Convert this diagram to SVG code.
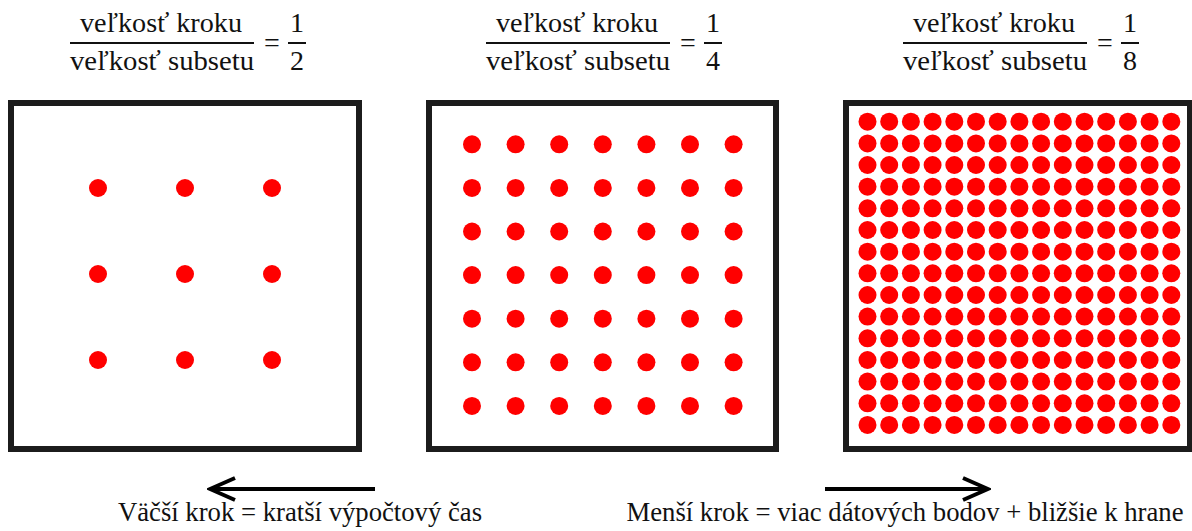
<svg xmlns="http://www.w3.org/2000/svg" xmlns:xlink="http://www.w3.org/1999/xlink" width="1192" height="531" viewBox="0 0 1192 531">
  <style>
    .frame { fill: #ffffff; stroke: #1c1c1c; stroke-width: 6; }
    .dot { fill: #ff0000; }
    .math { font-family: "Liberation Serif", "Times New Roman", serif; font-size: 28px; fill: #111; text-anchor: middle; }
    .cap { font-family: "Liberation Serif", "Times New Roman", serif; font-size: 26.7px; fill: #111; text-anchor: middle; }
    .bar { stroke: #111; stroke-width: 2; }
    .arrow { stroke: #000; stroke-width: 4; fill: none; }
  </style>
  <defs>
    <marker id="chevron" viewBox="0 0 30 26" refX="27" refY="13" markerWidth="30" markerHeight="26" markerUnits="userSpaceOnUse" orient="auto">
      <path d="M2,2 L27,13 L2,24" fill="none" stroke="#000" stroke-width="4" stroke-linejoin="miter"/>
    </marker>
    <!-- one row of the medium grid (7 points) -->
    <g id="row7">
      <circle class="dot" cx="472" cy="0" r="9"/>
      <circle class="dot" cx="515.6" cy="0" r="9"/>
      <circle class="dot" cx="559.2" cy="0" r="9"/>
      <circle class="dot" cx="602.8" cy="0" r="9"/>
      <circle class="dot" cx="646.4" cy="0" r="9"/>
      <circle class="dot" cx="690" cy="0" r="9"/>
      <circle class="dot" cx="733.6" cy="0" r="9"/>
    </g>
    <!-- one row of the fine grid (15 points) -->
    <g id="row15">
      <circle class="dot" cx="867.5" cy="0" r="9"/>
      <circle class="dot" cx="889.2" cy="0" r="9"/>
      <circle class="dot" cx="910.9" cy="0" r="9"/>
      <circle class="dot" cx="932.6" cy="0" r="9"/>
      <circle class="dot" cx="954.3" cy="0" r="9"/>
      <circle class="dot" cx="976.0" cy="0" r="9"/>
      <circle class="dot" cx="997.7" cy="0" r="9"/>
      <circle class="dot" cx="1019.4" cy="0" r="9"/>
      <circle class="dot" cx="1041.1" cy="0" r="9"/>
      <circle class="dot" cx="1062.8" cy="0" r="9"/>
      <circle class="dot" cx="1084.5" cy="0" r="9"/>
      <circle class="dot" cx="1106.2" cy="0" r="9"/>
      <circle class="dot" cx="1127.9" cy="0" r="9"/>
      <circle class="dot" cx="1149.6" cy="0" r="9"/>
      <circle class="dot" cx="1171.3" cy="0" r="9"/>
    </g>
  </defs>

  <rect width="1192" height="531" fill="#ffffff"/>

  <!-- step / subset ratio 1/2 -->
  <g id="ratio-half">
    <text class="math" x="161" y="32" textLength="162" lengthAdjust="spacingAndGlyphs">veľkosť kroku</text>
    <line class="bar" x1="70" y1="43" x2="254" y2="43"/>
    <text class="math" x="162" y="70" textLength="184" lengthAdjust="spacingAndGlyphs">veľkosť subsetu</text>
    <text class="math" x="272" y="52">=</text>
    <text class="math" x="297" y="32">1</text>
    <line class="bar" x1="288" y1="43" x2="306" y2="43"/>
    <text class="math" x="297" y="70">2</text>
  </g>
  <g id="grid-coarse">
    <rect class="frame" x="11" y="103" width="348" height="346"/>
    <circle class="dot" cx="98" cy="188" r="9"/>
    <circle class="dot" cx="185" cy="188" r="9"/>
    <circle class="dot" cx="272" cy="188" r="9"/>
    <circle class="dot" cx="98" cy="274" r="9"/>
    <circle class="dot" cx="185" cy="274" r="9"/>
    <circle class="dot" cx="272" cy="274" r="9"/>
    <circle class="dot" cx="98" cy="360" r="9"/>
    <circle class="dot" cx="185" cy="360" r="9"/>
    <circle class="dot" cx="272" cy="360" r="9"/>
  </g>

  <!-- step / subset ratio 1/4 -->
  <g id="ratio-quarter">
    <text class="math" x="577" y="32" textLength="162" lengthAdjust="spacingAndGlyphs">veľkosť kroku</text>
    <line class="bar" x1="486" y1="43" x2="670" y2="43"/>
    <text class="math" x="578" y="70" textLength="184" lengthAdjust="spacingAndGlyphs">veľkosť subsetu</text>
    <text class="math" x="688" y="52">=</text>
    <text class="math" x="713" y="32">1</text>
    <line class="bar" x1="704" y1="43" x2="722" y2="43"/>
    <text class="math" x="713" y="70">4</text>
  </g>
  <g id="grid-medium">
    <rect class="frame" x="429" y="103" width="347" height="346"/>
    <use xlink:href="#row7" href="#row7" y="144.3"/>
    <use xlink:href="#row7" href="#row7" y="187.9"/>
    <use xlink:href="#row7" href="#row7" y="231.5"/>
    <use xlink:href="#row7" href="#row7" y="275.1"/>
    <use xlink:href="#row7" href="#row7" y="318.7"/>
    <use xlink:href="#row7" href="#row7" y="362.3"/>
    <use xlink:href="#row7" href="#row7" y="405.9"/>
  </g>

  <!-- step / subset ratio 1/8 -->
  <g id="ratio-eighth">
    <text class="math" x="994" y="32" textLength="162" lengthAdjust="spacingAndGlyphs">veľkosť kroku</text>
    <line class="bar" x1="903" y1="43" x2="1087" y2="43"/>
    <text class="math" x="995" y="70" textLength="184" lengthAdjust="spacingAndGlyphs">veľkosť subsetu</text>
    <text class="math" x="1105" y="52">=</text>
    <text class="math" x="1130" y="32">1</text>
    <line class="bar" x1="1121" y1="43" x2="1139" y2="43"/>
    <text class="math" x="1130" y="70">8</text>
  </g>
  <g id="grid-fine">
    <rect class="frame" x="846" y="103" width="344" height="346"/>
    <use xlink:href="#row15" href="#row15" y="121.7"/>
    <use xlink:href="#row15" href="#row15" y="143.4"/>
    <use xlink:href="#row15" href="#row15" y="165.0"/>
    <use xlink:href="#row15" href="#row15" y="186.7"/>
    <use xlink:href="#row15" href="#row15" y="208.3"/>
    <use xlink:href="#row15" href="#row15" y="230.0"/>
    <use xlink:href="#row15" href="#row15" y="251.7"/>
    <use xlink:href="#row15" href="#row15" y="273.3"/>
    <use xlink:href="#row15" href="#row15" y="295.0"/>
    <use xlink:href="#row15" href="#row15" y="316.6"/>
    <use xlink:href="#row15" href="#row15" y="338.3"/>
    <use xlink:href="#row15" href="#row15" y="360.0"/>
    <use xlink:href="#row15" href="#row15" y="381.6"/>
    <use xlink:href="#row15" href="#row15" y="403.3"/>
    <use xlink:href="#row15" href="#row15" y="424.9"/>
  </g>

  <!-- direction arrows -->
  <g id="connectors">
    <line class="arrow" x1="375" y1="489" x2="210" y2="489" marker-end="url(#chevron)"/>
    <line class="arrow" x1="825" y1="489" x2="988" y2="489" marker-end="url(#chevron)"/>
  </g>

  <g id="captions">
    <text class="cap" x="300" y="521">Väčší krok = kratší výpočtový čas</text>
    <text class="cap" x="905" y="521">Menší krok = viac dátových bodov + bližšie k hrane</text>
  </g>
</svg>
